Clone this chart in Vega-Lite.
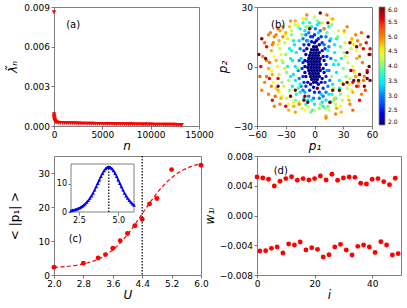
{
"$schema":"https://vega.github.io/schema/vega-lite/v6.json",
"padding":{"left":6,"top":2,"right":0,"bottom":0},
"autosize":{"type":"pad"},
"background":"white",
"columns":2,
"bounds":"flush",
"spacing":{"row":30,"column":56},
"datasets":{
"a":[{"n":0,"v":0.0086},{"n":3,"v":0.0009},{"n":10,"v":0.00078},{"n":20,"v":0.00068},{"n":35,"v":0.0006},{"n":50,"v":0.00052},{"n":70,"v":0.00045},{"n":90,"v":0.0004},{"n":120,"v":0.00036},{"n":160,"v":0.00032},{"n":220,"v":0.00029},{"n":300,"v":0.00027},{"n":450,"v":0.00025},{"n":650,"v":0.00024},{"n":900,"v":0.00023},{"n":1100,"v":0.00023},{"n":1300,"v":0.00022},{"n":1500,"v":0.00022},{"n":1700,"v":0.00022},{"n":1900,"v":0.00021},{"n":2100,"v":0.00021},{"n":2300,"v":0.0002},{"n":2500,"v":0.00019},{"n":2700,"v":0.00019},{"n":2900,"v":0.00018},{"n":3100,"v":0.00018},{"n":3300,"v":0.00018},{"n":3500,"v":0.00017},{"n":3700,"v":0.00017},{"n":3900,"v":0.00017},{"n":4100,"v":0.00017},{"n":4300,"v":0.00016},{"n":4500,"v":0.00016},{"n":4700,"v":0.00016},{"n":4900,"v":0.00016},{"n":5100,"v":0.00015},{"n":5300,"v":0.00015},{"n":5500,"v":0.00015},{"n":5700,"v":0.00015},{"n":5900,"v":0.00015},{"n":6100,"v":0.00015},{"n":6300,"v":0.00014},{"n":6500,"v":0.00014},{"n":6700,"v":0.00014},{"n":6900,"v":0.00014},{"n":7100,"v":0.00014},{"n":7300,"v":0.00014},{"n":7500,"v":0.00013},{"n":7700,"v":0.00013},{"n":7900,"v":0.00013},{"n":8100,"v":0.00013},{"n":8300,"v":0.00012},{"n":8500,"v":0.00012},{"n":8700,"v":0.00012},{"n":8900,"v":0.00012},{"n":9100,"v":0.00011},{"n":9300,"v":0.00011},{"n":9500,"v":0.00011},{"n":9700,"v":0.00011},{"n":9900,"v":0.00011},{"n":10100,"v":0.00011},{"n":10300,"v":0.0001},{"n":10500,"v":0.0001},{"n":10700,"v":0.0001},{"n":10900,"v":0.0001},{"n":11100,"v":0.0001},{"n":11300,"v":0.0001},{"n":11500,"v":0.00009},{"n":11700,"v":0.00009},{"n":11900,"v":0.00009},{"n":12100,"v":0.00009},{"n":12300,"v":0.00009},{"n":12500,"v":0.00009},{"n":12700,"v":0.00008},{"n":12900,"v":0.00008},{"n":13100,"v":0.00008},{"n":13200,"v":0.00008}],
"b":[
{"p1":-1,"p2":10,"U":2.0},{"p1":2,"p2":10,"U":2.0},
{"p1":-3,"p2":8.5,"U":2.0},{"p1":0,"p2":8.5,"U":2.0},{"p1":3,"p2":8.5,"U":2.0},
{"p1":-4,"p2":7,"U":2.0},{"p1":-1,"p2":7,"U":2.0},{"p1":2,"p2":7,"U":2.0},{"p1":5,"p2":7,"U":2.0},
{"p1":-5,"p2":5.5,"U":2.0},{"p1":-2,"p2":5.5,"U":2.0},{"p1":1,"p2":5.5,"U":2.0},{"p1":4,"p2":5.5,"U":2.0},
{"p1":-6,"p2":4,"U":2.0},{"p1":-3,"p2":4,"U":2.0},{"p1":0,"p2":4,"U":2.0},{"p1":3,"p2":4,"U":2.0},{"p1":6,"p2":4,"U":2.0},
{"p1":-7,"p2":2.5,"U":2.0},{"p1":-4,"p2":2.5,"U":2.0},{"p1":-1,"p2":2.5,"U":2.0},{"p1":2,"p2":2.5,"U":2.0},{"p1":5,"p2":2.5,"U":2.0},
{"p1":-6,"p2":1,"U":2.0},{"p1":-3,"p2":1,"U":2.0},{"p1":0,"p2":1,"U":2.0},{"p1":3,"p2":1,"U":2.0},{"p1":6,"p2":1,"U":2.0},
{"p1":-7,"p2":-0.5,"U":2.0},{"p1":-4,"p2":-0.5,"U":2.0},{"p1":-1,"p2":-0.5,"U":2.0},{"p1":2,"p2":-0.5,"U":2.0},{"p1":5,"p2":-0.5,"U":2.0},
{"p1":-6,"p2":-2,"U":2.0},{"p1":-3,"p2":-2,"U":2.0},{"p1":0,"p2":-2,"U":2.0},{"p1":3,"p2":-2,"U":2.0},{"p1":6,"p2":-2,"U":2.0},
{"p1":-5,"p2":-3.5,"U":2.0},{"p1":-2,"p2":-3.5,"U":2.0},{"p1":1,"p2":-3.5,"U":2.0},{"p1":4,"p2":-3.5,"U":2.0},
{"p1":-4,"p2":-5,"U":2.0},{"p1":-1,"p2":-5,"U":2.0},{"p1":2,"p2":-5,"U":2.0},{"p1":5,"p2":-5,"U":2.0},
{"p1":-3,"p2":-6.5,"U":2.0},{"p1":0,"p2":-6.5,"U":2.0},{"p1":3,"p2":-6.5,"U":2.0},
{"p1":-1,"p2":-8,"U":2.0},{"p1":2,"p2":-8,"U":2.0},
{"p1":-9,"p2":6,"U":2.3},{"p1":8,"p2":8,"U":2.3},{"p1":-10,"p2":0,"U":2.3},{"p1":9,"p2":-1,"U":2.3},{"p1":-9,"p2":-5,"U":2.3},{"p1":8,"p2":-6,"U":2.3},{"p1":-6,"p2":11,"U":2.3},{"p1":5,"p2":11,"U":2.3},{"p1":0,"p2":12,"U":2.3},{"p1":-4,"p2":-9,"U":2.3},{"p1":4,"p2":-9,"U":2.3},{"p1":-1,"p2":-10.5,"U":2.3},{"p1":-8,"p2":9,"U":2.3},{"p1":-10,"p2":3,"U":2.3},{"p1":10,"p2":3,"U":2.3},{"p1":7,"p2":-8,"U":2.3},{"p1":-7,"p2":-8,"U":2.3},{"p1":2,"p2":13,"U":2.3},{"p1":-3,"p2":12.5,"U":2.3},{"p1":9,"p2":5,"U":2.3},{"p1":10,"p2":-3,"U":2.3},{"p1":-10,"p2":-3,"U":2.3},
{"p1":-12,"p2":2,"U":2.6},{"p1":12,"p2":1,"U":2.6},{"p1":-11,"p2":8,"U":2.6},{"p1":11,"p2":9,"U":2.6},{"p1":-12,"p2":-5,"U":2.6},{"p1":12,"p2":-5,"U":2.6},{"p1":-8,"p2":13,"U":2.6},{"p1":8,"p2":12,"U":2.6},{"p1":-4,"p2":15,"U":2.6},{"p1":4,"p2":14,"U":2.6},{"p1":0,"p2":16,"U":2.6},{"p1":-9,"p2":-10,"U":2.6},{"p1":9,"p2":-11,"U":2.6},{"p1":-5,"p2":-12,"U":2.6},{"p1":5,"p2":-13,"U":2.6},{"p1":0,"p2":-13,"U":2.6},{"p1":-13,"p2":-1,"U":2.6},{"p1":13,"p2":5,"U":2.6},{"p1":-11,"p2":11,"U":2.6},{"p1":11,"p2":-8,"U":2.6},{"p1":-11,"p2":-8,"U":2.6},{"p1":-2,"p2":15,"U":2.6},{"p1":7,"p2":15,"U":2.6},
{"p1":-16,"p2":3,"U":3.0},{"p1":15,"p2":-2,"U":3.0},{"p1":-15,"p2":9,"U":3.0},{"p1":15,"p2":10,"U":3.0},{"p1":-16,"p2":-6,"U":3.0},{"p1":16,"p2":-7,"U":3.0},{"p1":-12,"p2":14,"U":3.0},{"p1":12,"p2":15,"U":3.0},{"p1":-6,"p2":17,"U":3.0},{"p1":6,"p2":18,"U":3.0},{"p1":1,"p2":19,"U":3.0},{"p1":-12,"p2":-12,"U":3.0},{"p1":12,"p2":-13,"U":3.0},{"p1":-6,"p2":-15,"U":3.0},{"p1":5,"p2":-16,"U":3.0},{"p1":-17,"p2":-2,"U":3.0},{"p1":17,"p2":4,"U":3.0},{"p1":-14,"p2":-10,"U":3.0},{"p1":14,"p2":-10,"U":3.0},{"p1":-1,"p2":-16,"U":3.0},{"p1":-9,"p2":16,"U":3.0},{"p1":9,"p2":-15,"U":3.0},{"p1":16,"p2":13,"U":3.0},
{"p1":-7,"p2":13,"U":3.2},{"p1":7,"p2":-14,"U":3.3},{"p1":13,"p2":-2,"U":3.1},{"p1":-14,"p2":4,"U":3.3},{"p1":10,"p2":11,"U":3.0},{"p1":-10,"p2":-13,"U":3.2},{"p1":-3,"p2":-17,"U":3.5},{"p1":4,"p2":17,"U":3.4},{"p1":14,"p2":8,"U":3.6},{"p1":-15,"p2":-9,"U":3.5},
{"p1":-20,"p2":0,"U":3.4},{"p1":20,"p2":1,"U":3.4},{"p1":-19,"p2":7,"U":3.4},{"p1":21,"p2":7,"U":3.4},{"p1":-20,"p2":-7,"U":3.4},{"p1":19,"p2":-9,"U":3.4},{"p1":-16,"p2":13,"U":3.4},{"p1":17,"p2":14,"U":3.4},{"p1":-10,"p2":18,"U":3.4},{"p1":10,"p2":19,"U":3.4},{"p1":3,"p2":21,"U":3.4},{"p1":-15,"p2":-13,"U":3.4},{"p1":15,"p2":-14,"U":3.4},{"p1":-7,"p2":-17,"U":3.4},{"p1":8,"p2":-18,"U":3.4},{"p1":-23,"p2":3,"U":3.4},{"p1":23,"p2":-3,"U":3.4},{"p1":-22,"p2":-4,"U":3.4},{"p1":0,"p2":-19,"U":3.4},{"p1":21,"p2":11,"U":3.4},{"p1":-21,"p2":11,"U":3.4},{"p1":12,"p2":-17,"U":3.4},{"p1":-11,"p2":-16,"U":3.4},{"p1":5,"p2":22,"U":3.4},{"p1":-3,"p2":20,"U":3.4},
{"p1":-18,"p2":-1,"U":3.9},{"p1":18,"p2":-5,"U":4.1},{"p1":-24,"p2":8,"U":3.6},{"p1":22,"p2":3,"U":3.8},{"p1":-13,"p2":16,"U":4.0},{"p1":13,"p2":17,"U":3.9},{"p1":-6,"p2":20,"U":4.2},{"p1":6,"p2":-19,"U":4.0},{"p1":-17,"p2":-11,"U":3.8},{"p1":20,"p2":-11,"U":4.2},{"p1":-27,"p2":-7,"U":4.1},{"p1":27,"p2":10,"U":3.9},
{"p1":-25,"p2":4,"U":3.7},{"p1":25,"p2":1,"U":3.7},{"p1":-25,"p2":-5,"U":3.7},{"p1":26,"p2":-7,"U":3.7},{"p1":-22,"p2":13,"U":3.7},{"p1":23,"p2":14,"U":3.7},{"p1":-15,"p2":19,"U":3.7},{"p1":15,"p2":20,"U":3.7},{"p1":-5,"p2":22,"U":3.7},{"p1":-19,"p2":-14,"U":3.7},{"p1":18,"p2":-14,"U":3.7},{"p1":-9,"p2":-19,"U":3.7},{"p1":9,"p2":-20,"U":3.7},{"p1":-28,"p2":0,"U":3.7},{"p1":28,"p2":4,"U":3.7},{"p1":-26,"p2":9,"U":3.7},{"p1":26,"p2":-11,"U":3.7},{"p1":-12,"p2":22,"U":3.7},{"p1":-2,"p2":-22,"U":3.7},{"p1":17,"p2":-18,"U":3.7},{"p1":-23,"p2":-10,"U":3.7},{"p1":22,"p2":-16,"U":3.7},
{"p1":-29,"p2":-3,"U":4.0},{"p1":30,"p2":-1,"U":4.0},{"p1":-30,"p2":6,"U":4.0},{"p1":31,"p2":7,"U":4.0},{"p1":-26,"p2":-12,"U":4.0},{"p1":27,"p2":-14,"U":4.0},{"p1":-24,"p2":16,"U":4.0},{"p1":24,"p2":15,"U":4.0},{"p1":-17,"p2":20,"U":4.0},{"p1":18,"p2":21,"U":4.0},{"p1":-9,"p2":24,"U":4.0},{"p1":-20,"p2":-17,"U":4.0},{"p1":20,"p2":-17,"U":4.0},{"p1":-4,"p2":-23,"U":4.0},{"p1":5,"p2":-21,"U":4.0},{"p1":-33,"p2":2,"U":4.0},{"p1":33,"p2":-5,"U":4.0},{"p1":-34,"p2":-8,"U":4.0},{"p1":11,"p2":-21,"U":4.0},{"p1":-9,"p2":20,"U":4.0},{"p1":14,"p2":-20,"U":4.0},{"p1":3,"p2":23,"U":4.0},
{"p1":-34,"p2":3,"U":4.3},{"p1":35,"p2":2,"U":4.3},{"p1":-32,"p2":-10,"U":4.3},{"p1":34,"p2":-11,"U":4.3},{"p1":-31,"p2":12,"U":4.3},{"p1":32,"p2":12,"U":4.3},{"p1":-24,"p2":18,"U":4.3},{"p1":25,"p2":18,"U":4.3},{"p1":-16,"p2":-18,"U":4.3},{"p1":22,"p2":-19,"U":4.3},{"p1":-7,"p2":-20,"U":4.3},{"p1":-37,"p2":-4,"U":4.3},{"p1":37,"p2":-6,"U":4.3},{"p1":-29,"p2":-16,"U":4.3},{"p1":29,"p2":-17,"U":4.3},{"p1":-36,"p2":9,"U":4.3},{"p1":38,"p2":9,"U":4.3},{"p1":-25,"p2":-15,"U":4.3},{"p1":-13,"p2":-21,"U":4.3},{"p1":15,"p2":-22,"U":4.3},{"p1":0,"p2":25,"U":4.3},{"p1":-20,"p2":21,"U":4.3},
{"p1":-31,"p2":-1,"U":4.6},{"p1":32,"p2":5,"U":4.4},{"p1":-28,"p2":14,"U":4.6},{"p1":29,"p2":-8,"U":4.5},{"p1":-22,"p2":-18,"U":4.4},{"p1":21,"p2":-16,"U":4.7},{"p1":-35,"p2":6,"U":4.4},{"p1":36,"p2":-9,"U":4.6},{"p1":-12,"p2":24,"U":4.5},{"p1":8,"p2":22,"U":4.6},{"p1":-40,"p2":-11,"U":4.7},{"p1":41,"p2":11,"U":4.6},{"p1":0,"p2":-22,"U":4.4},{"p1":-26,"p2":20,"U":4.7},
{"p1":-39,"p2":0,"U":4.5},{"p1":40,"p2":0,"U":4.5},{"p1":-37,"p2":-13,"U":4.5},{"p1":39,"p2":-12,"U":4.5},{"p1":-38,"p2":11,"U":4.5},{"p1":39,"p2":13,"U":4.5},{"p1":-30,"p2":16,"U":4.5},{"p1":31,"p2":17,"U":4.5},{"p1":-21,"p2":-20,"U":4.5},{"p1":23,"p2":-21,"U":4.5},{"p1":-42,"p2":5,"U":4.5},{"p1":42,"p2":-3,"U":4.5},{"p1":-34,"p2":-15,"U":4.5},{"p1":35,"p2":-15,"U":4.5},{"p1":-10,"p2":-22,"U":4.5},{"p1":-43,"p2":-8,"U":4.5},{"p1":44,"p2":8,"U":4.5},{"p1":-27,"p2":-19,"U":4.5},{"p1":27,"p2":-20,"U":4.5},{"p1":-17,"p2":21,"U":4.5},{"p1":17,"p2":24,"U":4.5},{"p1":-45,"p2":-2,"U":4.5},
{"p1":-40,"p2":3,"U":4.8},{"p1":41,"p2":-2,"U":4.8},{"p1":-38,"p2":-12,"U":4.8},{"p1":40,"p2":-13,"U":4.8},{"p1":-37,"p2":13,"U":4.8},{"p1":39,"p2":14,"U":4.8},{"p1":-30,"p2":17,"U":4.8},{"p1":31,"p2":18,"U":4.8},{"p1":-22,"p2":-20,"U":4.8},{"p1":23,"p2":-21,"U":4.8},{"p1":-44,"p2":-4,"U":4.8},{"p1":44,"p2":4,"U":4.8},{"p1":-35,"p2":-16,"U":4.8},{"p1":36,"p2":-17,"U":4.8},{"p1":-27,"p2":-22,"U":4.8},{"p1":28,"p2":-23,"U":4.8},{"p1":-45,"p2":8,"U":4.8},{"p1":46,"p2":-8,"U":4.8},{"p1":-20,"p2":23,"U":4.8},{"p1":19,"p2":24,"U":4.8},{"p1":-48,"p2":-1,"U":4.8},{"p1":12,"p2":-25,"U":4.8},
{"p1":-45,"p2":-10,"U":5.0},{"p1":46,"p2":-10,"U":5.0},{"p1":-43,"p2":12,"U":5.0},{"p1":45,"p2":13,"U":5.0},{"p1":-40,"p2":16,"U":5.0},{"p1":43,"p2":16,"U":5.0},{"p1":-50,"p2":3,"U":5.0},{"p1":50,"p2":2,"U":5.0},{"p1":-48,"p2":-14,"U":5.0},{"p1":49,"p2":-14,"U":5.0},{"p1":-33,"p2":20,"U":5.0},{"p1":-42,"p2":15,"U":5.0},{"p1":48,"p2":11,"U":5.0},{"p1":-52,"p2":-8,"U":5.0},{"p1":52,"p2":-5,"U":5.0},{"p1":-36,"p2":-19,"U":5.0},{"p1":37,"p2":-19,"U":5.0},{"p1":-16,"p2":-19,"U":5.0},{"p1":12,"p2":-26,"U":5.0},{"p1":10,"p2":19,"U":5.0},{"p1":-55,"p2":-12,"U":5.0},{"p1":-54,"p2":5,"U":5.0},{"p1":-33,"p2":15,"U":5.0},{"p1":-44,"p2":11,"U":5.0},
{"p1":-47,"p2":2,"U":5.1},{"p1":47,"p2":5,"U":5.0},{"p1":-41,"p2":-15,"U":5.2},{"p1":43,"p2":-5,"U":4.9},{"p1":-52,"p2":12,"U":5.2},{"p1":53,"p2":-12,"U":5.3},{"p1":-46,"p2":17,"U":5.0},{"p1":49,"p2":17,"U":5.2},{"p1":-38,"p2":19,"U":5.3},{"p1":-50,"p2":-5,"U":5.1},{"p1":34,"p2":20,"U":5.0},{"p1":-25,"p2":23,"U":4.9},{"p1":22,"p2":-24,"U":5.0},{"p1":-20,"p2":-23,"U":4.9},{"p1":-57,"p2":-5,"U":5.2},{"p1":51,"p2":-7,"U":5.1},{"p1":-42,"p2":-20,"U":5.0},{"p1":40,"p2":-22,"U":5.2},{"p1":-8,"p2":26,"U":5.0},{"p1":13,"p2":26,"U":5.1},{"p1":-48,"p2":16,"U":5.0},{"p1":-36,"p2":18,"U":4.9},
{"p1":-50,"p2":10,"U":5.5},{"p1":51,"p2":9,"U":5.5},{"p1":-47,"p2":-6,"U":5.5},{"p1":55,"p2":-2,"U":5.5},{"p1":-44,"p2":-17,"U":5.5},{"p1":47,"p2":-17,"U":5.5},{"p1":58,"p2":6,"U":5.5},{"p1":58,"p2":9,"U":5.5},{"p1":-56,"p2":0,"U":5.5},{"p1":54,"p2":12,"U":5.5},{"p1":-38,"p2":-6,"U":5.5},{"p1":40,"p2":-8,"U":5.5},{"p1":44,"p2":-10,"U":5.5},{"p1":-30,"p2":-20,"U":5.5},
{"p1":6,"p2":27,"U":6.0},{"p1":-5,"p2":19,"U":6.0},{"p1":37,"p2":12,"U":6.0},{"p1":56,"p2":15,"U":6.0},{"p1":34,"p2":7,"U":6.0},{"p1":57,"p2":6,"U":6.0},{"p1":-58,"p2":6,"U":6.0},{"p1":-51,"p2":4,"U":6.0},{"p1":-10,"p2":-15,"U":6.0},{"p1":-11,"p2":-17,"U":6.0},{"p1":-7,"p2":-18,"U":6.0},{"p1":16,"p2":-18,"U":6.0},{"p1":34,"p2":-8,"U":6.0},{"p1":41,"p2":-7,"U":6.0},{"p1":46,"p2":-7,"U":6.0},{"p1":55,"p2":-6,"U":6.0},{"p1":55,"p2":-3,"U":6.0},{"p1":57,"p2":0,"U":6.0},{"p1":26,"p2":-12,"U":6.0},{"p1":3,"p2":-11,"U":6.0},{"p1":58,"p2":-7,"U":6.0},{"p1":52,"p2":-10,"U":6.0},{"p1":47,"p2":-4,"U":6.0},{"p1":-38,"p2":-10,"U":6.0},{"p1":-20,"p2":-12,"U":6.0},{"p1":44,"p2":10,"U":6.0},{"p1":30,"p2":-9,"U":6.0},{"p1":38,"p2":-2,"U":6.0},{"p1":-55,"p2":14,"U":6.0},{"p1":19,"p2":-12,"U":6.0},{"p1":-25,"p2":-15,"U":6.0},{"p1":14,"p2":22,"U":6.0}
],
"c":[{"U":2.0,"v":2.3},{"U":2.8,"v":3.45},{"U":3.2,"v":5.0},{"U":3.4,"v":6.0},{"U":3.6,"v":7.9},{"U":3.8,"v":10.1},{"U":4.0,"v":12.2},{"U":4.2,"v":14.5},{"U":4.4,"v":16.4},{"U":4.6,"v":20.9},{"U":4.8,"v":22.5},{"U":5.2,"v":31.0},{"U":6.0,"v":32.3}],
"cfit":[{"U":2.0,"v":2.26},{"U":2.1,"v":2.32},{"U":2.2,"v":2.39},{"U":2.3,"v":2.47},{"U":2.4,"v":2.58},{"U":2.5,"v":2.70},{"U":2.6,"v":2.85},{"U":2.7,"v":3.03},{"U":2.8,"v":3.25},{"U":2.9,"v":3.52},{"U":3.0,"v":3.83},{"U":3.1,"v":4.21},{"U":3.2,"v":4.66},{"U":3.3,"v":5.19},{"U":3.4,"v":5.81},{"U":3.5,"v":6.54},{"U":3.6,"v":7.38},{"U":3.7,"v":8.33},{"U":3.8,"v":9.41},{"U":3.9,"v":10.61},{"U":4.0,"v":11.92},{"U":4.1,"v":13.34},{"U":4.2,"v":14.84},{"U":4.3,"v":16.41},{"U":4.4,"v":18.0},{"U":4.5,"v":19.59},{"U":4.6,"v":21.16},{"U":4.7,"v":22.66},{"U":4.8,"v":24.08},{"U":4.9,"v":25.39},{"U":5.0,"v":26.59},{"U":5.1,"v":27.67},{"U":5.2,"v":28.62},{"U":5.3,"v":29.46},{"U":5.4,"v":30.19},{"U":5.5,"v":30.81},{"U":5.6,"v":31.34},{"U":5.7,"v":31.79},{"U":5.8,"v":32.17},{"U":5.9,"v":32.48},{"U":6.0,"v":32.75}],
"ins":[{"u":2.0,"y":0.52},{"u":2.1,"y":0.63},{"u":2.2,"y":0.77},{"u":2.3,"y":0.93},{"u":2.4,"y":1.13},{"u":2.5,"y":1.37},{"u":2.6,"y":1.66},{"u":2.7,"y":2.0},{"u":2.8,"y":2.41},{"u":2.9,"y":2.89},{"u":3.0,"y":3.46},{"u":3.1,"y":4.12},{"u":3.2,"y":4.88},{"u":3.3,"y":5.75},{"u":3.4,"y":6.72},{"u":3.5,"y":7.79},{"u":3.6,"y":8.95},{"u":3.7,"y":10.15},{"u":3.8,"y":11.39},{"u":3.9,"y":12.58},{"u":4.0,"y":13.69},{"u":4.1,"y":14.64},{"u":4.2,"y":15.38},{"u":4.3,"y":15.84},{"u":4.4,"y":16.0},{"u":4.5,"y":15.84},{"u":4.6,"y":15.38},{"u":4.7,"y":14.64},{"u":4.8,"y":13.69},{"u":4.9,"y":12.58},{"u":5.0,"y":11.39},{"u":5.1,"y":10.15},{"u":5.2,"y":8.95},{"u":5.3,"y":7.79},{"u":5.4,"y":6.72},{"u":5.5,"y":5.75},{"u":5.6,"y":4.88},{"u":5.7,"y":4.12},{"u":5.8,"y":3.46},{"u":5.9,"y":2.89},{"u":6.0,"y":2.41}],
"d":[{"i":0,"w":0.00518},{"i":2,"w":0.00505},{"i":4,"w":0.00487},{"i":6,"w":0.00397},{"i":8,"w":0.0046},{"i":10,"w":0.00496},{"i":12,"w":0.00522},{"i":14,"w":0.00473},{"i":16,"w":0.00496},{"i":18,"w":0.00478},{"i":20,"w":0.00496},{"i":22,"w":0.00531},{"i":24,"w":0.00478},{"i":26,"w":0.00554},{"i":28,"w":0.00473},{"i":30,"w":0.00505},{"i":32,"w":0.00518},{"i":34,"w":0.00513},{"i":36,"w":0.00433},{"i":38,"w":0.00424},{"i":40,"w":0.00487},{"i":42,"w":0.00496},{"i":44,"w":0.00455},{"i":46,"w":0.00415},{"i":48,"w":0.005},
{"i":1,"w":-0.00478},{"i":3,"w":-0.00473},{"i":5,"w":-0.00442},{"i":7,"w":-0.00424},{"i":9,"w":-0.00504},{"i":11,"w":-0.00383},{"i":13,"w":-0.00397},{"i":15,"w":-0.00357},{"i":17,"w":-0.00464},{"i":19,"w":-0.00433},{"i":21,"w":-0.00455},{"i":23,"w":-0.00558},{"i":25,"w":-0.00527},{"i":27,"w":-0.00424},{"i":29,"w":-0.00388},{"i":31,"w":-0.00464},{"i":33,"w":-0.00531},{"i":35,"w":-0.00415},{"i":37,"w":-0.00397},{"i":39,"w":-0.00424},{"i":41,"w":-0.00496},{"i":43,"w":-0.00352},{"i":45,"w":-0.00397},{"i":47,"w":-0.00531},{"i":49,"w":-0.00513}]
},
"concat":[
{"width":145,"height":119,
 "layer":[
  {"data":{"name":"a"},"mark":{"type":"point","shape":"triangle-down","filled":true,"size":20,"color":"#ff0000","opacity":1},
   "encoding":{"x":{"field":"n","type":"quantitative","scale":{"domain":[0,15000],"nice":false},"axis":{"values":[0,5000,10000,15000],"tickCount":20,"format":"d","title":"n","titleFontStyle":"italic","titlePadding":1}},
               "y":{"field":"v","type":"quantitative","scale":{"domain":[0,0.009],"nice":false},"axis":{"values":[0,0.003,0.006,0.009],"tickCount":20,"format":".3f","title":"λ̃ₙ","titleFontStyle":"italic","titlePadding":4}}}},
  {"data":{"values":[{"n":1260,"v":0.00764,"t":"(a)"}]},"mark":{"type":"text","align":"left","baseline":"middle","fontSize":10},
   "encoding":{"x":{"field":"n","type":"quantitative"},"y":{"field":"v","type":"quantitative"},"text":{"field":"t"}}}
 ]},
{"width":115,"height":119,
 "layer":[
  {"data":{"name":"b"},"mark":{"type":"circle","size":12,"opacity":1},
   "encoding":{"x":{"field":"p1","type":"quantitative","scale":{"domain":[-60,60],"nice":false},"axis":{"values":[-60,-30,0,30,60],"tickCount":20,"title":"p₁","titleFontStyle":"italic","titlePadding":1}},
               "y":{"field":"p2","type":"quantitative","scale":{"domain":[-30,30],"nice":false},"axis":{"values":[-30,0,30],"tickCount":20,"title":"p₂","titleFontStyle":"italic","titlePadding":4}},
               "color":{"field":"U","type":"quantitative","scale":{"domain":[2,6],"range":["#00007f","#0000ff","#007fff","#00ffff","#7fff7f","#ffff00","#ff7f00","#ff0000","#7f0000"]},
                        "legend":{"orient":"right","offset":7,"title":null,"gradientLength":118,"gradientThickness":6,"values":[2,2.5,3,3.5,4,4.5,5,5.5,6],"format":".1f","labelFontSize":6,"labelOverlap":false,"gradientStrokeColor":"#808080","gradientStrokeWidth":0.8,"padding":0,"labelOffset":3}}}},
  {"data":{"values":[{"p1":-45.4,"p2":20.9,"t":"(b)"}]},"mark":{"type":"text","align":"left","baseline":"middle","fontSize":10},
   "encoding":{"x":{"field":"p1","type":"quantitative"},"y":{"field":"p2","type":"quantitative"},"text":{"field":"t"}}}
 ]},
{"width":147,"height":119,
 "layer":[
  {"layer":[
    {"data":{"name":"cfit"},"mark":{"type":"line","color":"#ff0000","strokeDash":[4,2.5],"strokeWidth":1.2},
     "encoding":{"x":{"field":"U","type":"quantitative","scale":{"domain":[2,6],"nice":false,"zero":false},"axis":{"orient":"bottom","values":[2,2.8,3.6,4.4,5.2,6],"tickCount":20,"format":".1f","title":"U","titleFontStyle":"italic","titlePadding":1}},
                 "y":{"field":"v","type":"quantitative","scale":{"domain":[0,35],"nice":false},"axis":{"orient":"left","values":[0,10,20,30],"tickCount":20,"title":"< |p₁| >","titlePadding":17}}}},
    {"data":{"name":"c"},"mark":{"type":"circle","size":24,"color":"#ff0000","opacity":1},
     "encoding":{"x":{"field":"U","type":"quantitative"},"y":{"field":"v","type":"quantitative"}}},
    {"data":{"values":[{"U":4.4}]},"mark":{"type":"rule","color":"#000000","strokeDash":[1.5,1.5],"strokeWidth":1.2},
     "encoding":{"x":{"field":"U","type":"quantitative"}}},
    {"data":{"values":[{"U":2.4,"v":10.5,"t":"(c)"}]},"mark":{"type":"text","align":"left","baseline":"middle","fontSize":10},
     "encoding":{"x":{"field":"U","type":"quantitative"},"y":{"field":"v","type":"quantitative"},"text":{"field":"t"}}}
  ]},
  {"layer":[
    {"data":{"values":[{"u":2,"u2":6,"y":0,"y2":17}]},"mark":{"type":"rect","fill":"#ffffff","stroke":"#808080","strokeWidth":1},
     "encoding":{"x":{"field":"u","type":"quantitative","scale":{"domain":[2,6],"range":[17,80],"nice":false,"zero":false},"axis":{"orient":"bottom","offset":-63,"values":[2.5,5],"tickCount":20,"format":".1f","title":null,"labelFontSize":8}},
                 "x2":{"field":"u2"},
                 "y":{"field":"y","type":"quantitative","scale":{"domain":[0,17],"range":[56,8],"nice":false},"axis":{"orient":"left","offset":-17,"values":[0,10],"tickCount":20,"title":null,"labelFontSize":8}},
                 "y2":{"field":"y2"}}},
    {"data":{"name":"ins"},"mark":{"type":"line","color":"#0000ff","strokeWidth":1.5,"point":{"shape":"triangle-up","filled":true,"size":14,"color":"#0000ff"}},
     "encoding":{"x":{"field":"u","type":"quantitative"},"y":{"field":"y","type":"quantitative"}}},
    {"data":{"values":[{"u":4.4,"y":0,"y2":16}]},"mark":{"type":"rule","color":"#000000","strokeDash":[1.5,1.5],"strokeWidth":1.2},
     "encoding":{"x":{"field":"u","type":"quantitative"},"y":{"field":"y","type":"quantitative"},"y2":{"field":"y2"}}}
  ]}
 ],
 "resolve":{"scale":{"x":"independent","y":"independent"},"axis":{"x":"independent","y":"independent"}}},
{"width":144,"height":119,
 "layer":[
  {"data":{"name":"d"},"mark":{"type":"circle","size":24,"color":"#ff0000","opacity":1},
   "encoding":{"x":{"field":"i","type":"quantitative","scale":{"domain":[0,50],"nice":false},"axis":{"values":[0,20,40],"tickCount":20,"title":"i","titleFontStyle":"italic","titlePadding":1}},
               "y":{"field":"w","type":"quantitative","scale":{"domain":[-0.008,0.008],"nice":false},"axis":{"values":[-0.008,-0.004,0,0.004,0.008],"tickCount":20,"format":".3f","title":"w₁ᵢ","titleFontStyle":"italic","titlePadding":3}}}},
  {"data":{"values":[{"i":5.8,"w":0.00594,"t":"(d)"}]},"mark":{"type":"text","align":"left","baseline":"middle","fontSize":10},
   "encoding":{"x":{"field":"i","type":"quantitative"},"y":{"field":"w","type":"quantitative"},"text":{"field":"t"}}}
 ]}
],
"resolve":{"scale":{"color":"independent"},"legend":{"color":"independent"}},
"config":{
 "font":"DejaVu Sans",
 "view":{"stroke":"#808080","strokeWidth":1,"fill":"white"},
 "axis":{"domain":false,"grid":false,"ticks":true,"tickColor":"#555555","tickSize":3,"tickWidth":0.8,"labelFont":"DejaVu Sans","labelFontSize":9,"labelColor":"#000000","labelPadding":1.5,"labelFlush":false,"labelOverlap":false,"titleFont":"DejaVu Sans","titleFontSize":12,"titleFontWeight":"normal","titleColor":"#000000"},
 "legend":{"labelFont":"DejaVu Sans","labelColor":"#000000"},
 "text":{"font":"DejaVu Sans","color":"#000000"}
}
}
